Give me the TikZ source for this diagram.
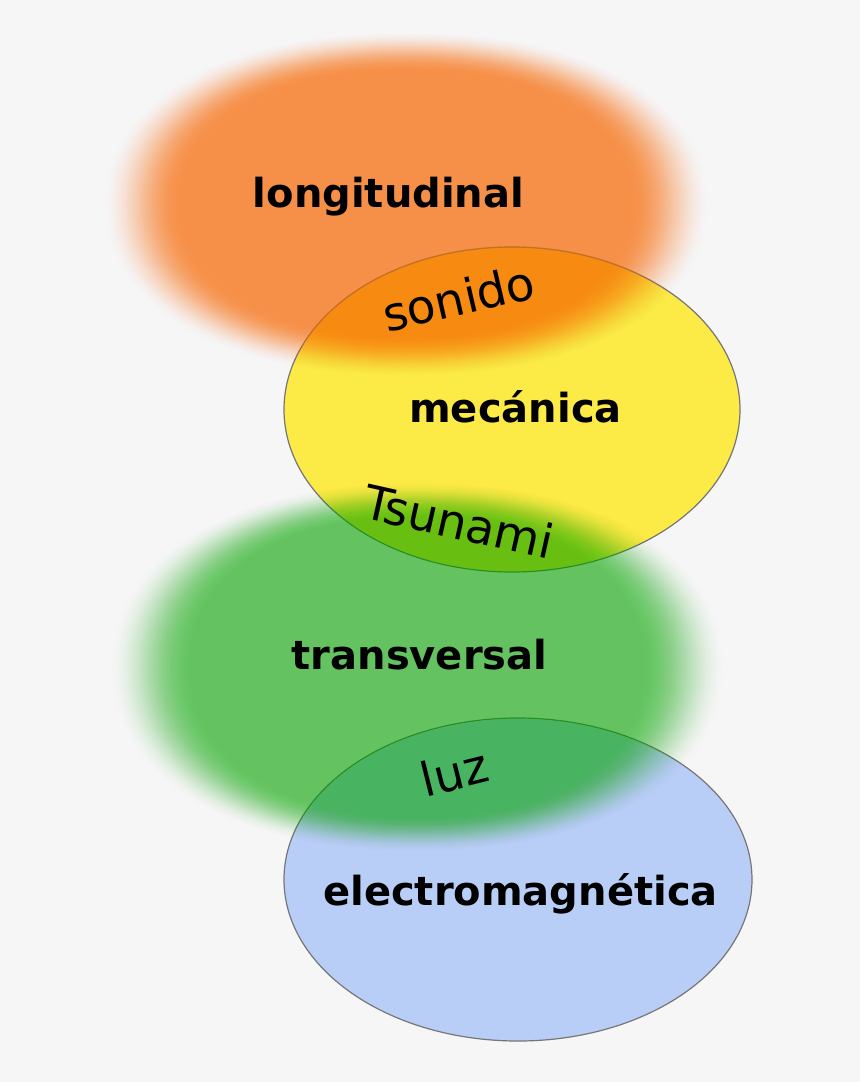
\documentclass[tikz,border=0pt]{standalone}
\usepackage{fontspec}
\setmainfont{DejaVu Sans}
\definecolor{bgc}{RGB}{246,246,246}
\definecolor{yellowc}{RGB}{252,234,70}
\definecolor{bluec}{RGB}{185,206,246}
\definecolor{orangec}{RGB}{247,112,10}
\definecolor{greenc}{RGB}{10,179,0}
\definecolor{edgec}{RGB}{118,118,118}
% soft superellipse blob: #1 colour, #2 max opacity, #3 cx, #4 cy,
% #5 outer rx, #6 outer ry, #7 inner rx, #8 inner ry, #9 exponent
\newcommand{\softblob}[9]{%
  \foreach \blobj in {1,...,36}{%
    \pgfmathsetmacro{\blobt}{\blobj/36}%
    \pgfmathsetmacro{\blobs}{(\blobj-1)/36}%
    \pgfmathsetmacro{\blobA}{#2*(3*\blobt*\blobt-2*\blobt*\blobt*\blobt)}%
    \pgfmathsetmacro{\blobB}{#2*(3*\blobs*\blobs-2*\blobs*\blobs*\blobs)}%
    \pgfmathsetmacro{\blobop}{1-(1-\blobA)/(1-\blobB)}%
    \pgfmathsetmacro{\blobrx}{#5-(#5-#7)*\blobt}%
    \pgfmathsetmacro{\blobry}{#6-(#6-#8)*\blobt}%
    \pgfmathsetmacro{\blobe}{2/#9}%
    \fill[#1, fill opacity=\blobop] plot[domain=0.5:355.5, samples=72, variable=\t]
      ({#3+\blobrx*sign(cos(\t))*pow(abs(cos(\t)),\blobe)},
       {#4+\blobry*sign(sin(\t))*pow(abs(sin(\t)),\blobe)}) -- cycle;
  }%
}
\tikzset{
  setellipse/.style={draw=edgec, line width=1.2pt},
  boldlabel/.style={font=\fontsize{40}{42}\selectfont\bfseries, anchor=base, inner sep=0pt, text=black},
  thinlabel/.style={font=\fontsize{47}{49}\selectfont, inner sep=0pt, text=black},
}
\begin{document}
\begin{tikzpicture}[x=1pt,y=-1pt]
\fill[bgc] (0,0) rectangle (860,1082);
\useasboundingbox (0,0) rectangle (860,1082);
% sharp sets
\path[setellipse, fill=yellowc] (512,409.5) ellipse [x radius=228pt, y radius=162.5pt];
\path[setellipse, fill=bluec] (518,879.5) ellipse [x radius=234pt, y radius=161.5pt];
% blurred sets
\softblob{orangec}{0.685}{406.5}{204}{305}{174}{228}{134}{2.2}
\softblob{greenc}{0.57}{417.5}{667}{310}{186}{228}{150}{2.2}
% labels
\node[boldlabel] (longi) at (388.5,207.3) {longitudinal};
\node[boldlabel] (meca) at (515.5,422) {mecánica};
\node[boldlabel] (trans) at (419.5,669) {transversal};
\node[boldlabel] (electro) at (520.5,905.7) {electromagnética};
\node[thinlabel, rotate=13] (sonido) at (458.5,298) {sonido};
\node[thinlabel, rotate=-12.6] (tsunami) at (459,521.5) {Tsunami};
\node[thinlabel, rotate=14] (luz) at (454,772) {luz};
\end{tikzpicture}
\end{document}
